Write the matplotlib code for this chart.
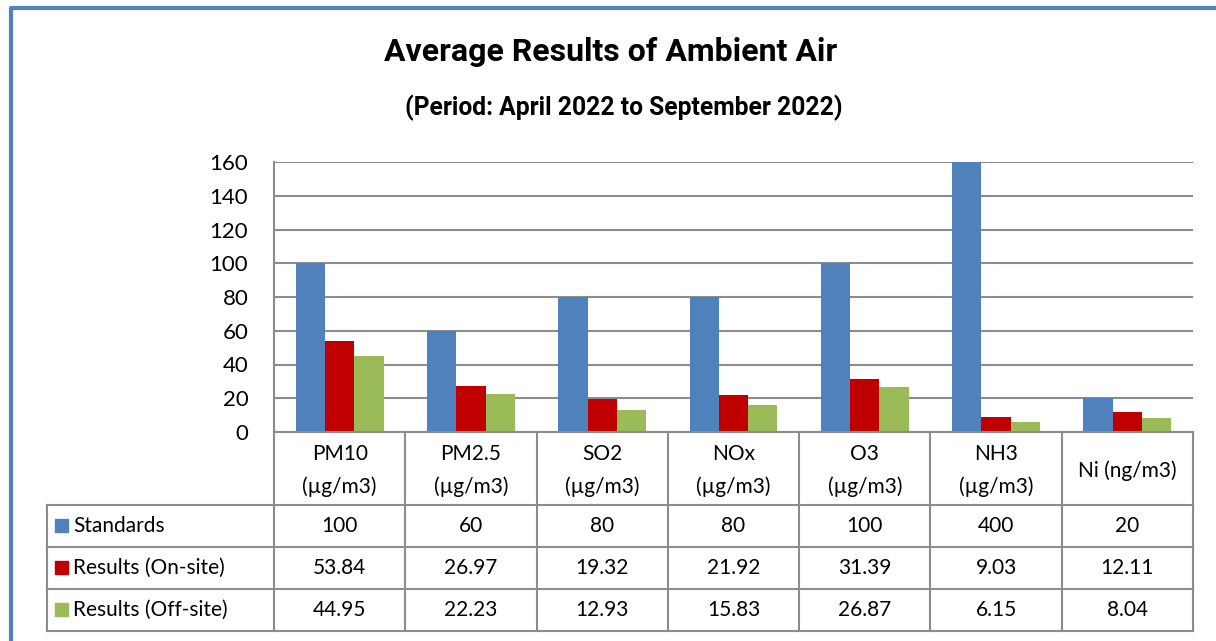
import numpy as np
import matplotlib
matplotlib.use('Agg')
import matplotlib.pyplot as plt
from matplotlib.patches import Rectangle

categories = ['PM10\n(µg/m3)', 'PM2.5\n(µg/m3)', 'SO2\n(µg/m3)', 'NOx\n(µg/m3)',
              'O3\n(µg/m3)', 'NH3\n(µg/m3)', 'Ni (ng/m3)']
series_names = ['Standards', 'Results (On-site)', 'Results (Off-site)']
standards = [100, 60, 80, 80, 100, 400, 20]
onsite = [53.84, 26.97, 19.32, 21.92, 31.39, 9.03, 12.11]
offsite = [44.95, 22.23, 12.93, 15.83, 26.87, 6.15, 8.04]
table_text = [
    ['100', '60', '80', '80', '100', '400', '20'],
    ['53.84', '26.97', '19.32', '21.92', '31.39', '9.03', '12.11'],
    ['44.95', '22.23', '12.93', '15.83', '26.87', '6.15', '8.04'],
]
colors = ['#4F81BD', '#C00000', '#9BBB59']
yticks = [0, 20, 40, 60, 80, 100, 120, 140, 160]

W, H = 1216, 641
fig = plt.figure(figsize=(W / 100, H / 100), dpi=100)

body_font = ['Lato', 'DejaVu Sans']
title_font = ['Roboto', 'DejaVu Sans']
grid_col = '#8c8c8c'
fs = 15

# plot area in pixels
px_l, px_r, px_t, px_b = 274, 1193, 162, 432
ax = fig.add_axes([px_l / W, 1 - px_b / H, (px_r - px_l) / W, (px_b - px_t) / H])
n = len(categories)
x = np.arange(n)
bw = 0.223
for i, vals in enumerate([standards, onsite, offsite]):
    ax.bar(x + (i - 1) * bw, vals, width=bw, color=colors[i], zorder=3)
ax.set_xlim(-0.5, n - 0.5)
ax.set_ylim(0, 160)
ax.set_yticks(yticks)
ax.set_yticklabels([str(v) for v in yticks], fontsize=16, family=body_font)
ax.tick_params(axis='y', length=0, pad=18.5)
ax.set_xticks([])
ax.yaxis.grid(True, color=grid_col, linewidth=1.5, zorder=0)
for s in ['top', 'right', 'bottom']:
    ax.spines[s].set_visible(False)
ax.spines['left'].set_color(grid_col)
ax.spines['left'].set_linewidth(1.5)

# overlay in pixel coordinates for the frame and data table
ov = fig.add_axes([0, 0, 1, 1], zorder=5)
ov.set_xlim(0, W)
ov.set_ylim(H, 0)
ov.axis('off')
ov.patch.set_alpha(0)

# blue outer frame
ov.plot([11, 11, W], [H, 8, 8], color='#4F81BD', linewidth=3, solid_capstyle='butt')

ov.text(611, 52, 'Average Results of Ambient Air', ha='center', va='center',
        fontsize=23, fontweight='bold', family=title_font)
ov.text(624, 108, '(Period: April 2022 to September 2022)', ha='center', va='center',
        fontsize=17.7, fontweight='bold', family=title_font)

col_w = (px_r - px_l) / n
col_x = [px_l + i * col_w for i in range(n + 1)]
row_y = [432, 505, 547, 589, 631]
leg_l = 47
lw = 1.5
# horizontal lines
ov.plot([px_l, px_r], [row_y[0], row_y[0]], color=grid_col, lw=lw)
for y in row_y[1:]:
    ov.plot([leg_l, px_r], [y, y], color=grid_col, lw=lw)
# vertical lines
for cx in col_x:
    ov.plot([cx, cx], [row_y[0], row_y[-1]], color=grid_col, lw=lw)
ov.plot([leg_l, leg_l], [row_y[1], row_y[-1]], color=grid_col, lw=lw)

for j, cat in enumerate(categories):
    ov.text((col_x[j] + col_x[j + 1]) / 2, (row_y[0] + row_y[1]) / 2 + 2, cat,
            ha='center', va='center', fontsize=fs, family=body_font, linespacing=1.8)

for r in range(3):
    yc = (row_y[r + 1] + row_y[r + 2]) / 2
    ov.add_patch(Rectangle((55, yc - 7), 13, 13, color=colors[r]))
    ov.text(73, yc, series_names[r], ha='left', va='center', fontsize=fs, family=body_font)
    for j in range(n):
        ov.text((col_x[j] + col_x[j + 1]) / 2, yc, table_text[r][j],
                ha='center', va='center', fontsize=fs, family=body_font)

fig.savefig('out.png', dpi=100)
